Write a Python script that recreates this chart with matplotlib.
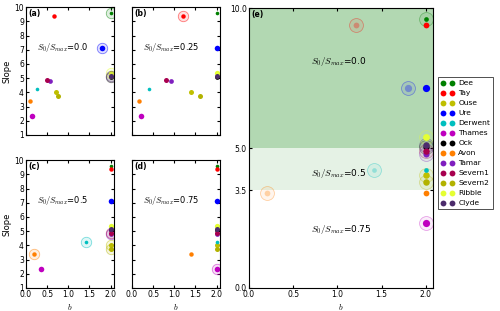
import matplotlib.pyplot as plt
from matplotlib.lines import Line2D

plt.rcParams['font.family'] = ['DejaVu Sans']
plt.rcParams['mathtext.fontset'] = 'cm'
plt.rcParams['xtick.direction'] = 'in'
plt.rcParams['ytick.direction'] = 'in'
plt.rcParams['xtick.top'] = True
plt.rcParams['ytick.right'] = True
plt.rcParams['xtick.major.size'] = 2.5
plt.rcParams['ytick.major.size'] = 2.5
plt.rcParams['axes.linewidth'] = 0.8

# 河流名称与颜色
rivers = ['Dee', 'Tay', 'Ouse', 'Ure', 'Derwent', 'Thames', 'Ock', 'Avon',
          'Tamar', 'Severn1', 'Severn2', 'Ribble', 'Clyde']
colors = ['#008000', '#ff0000', '#bfbf00', '#0000ff', '#00bfbf', '#bf00bf', '#000000',
          '#ff7f00', '#7f1fbf', '#a8004f', '#b2b200', '#e5ff33', '#4c2c6c']
# 坡度
slope = [9.62, 9.41, 4.04, 7.15, 4.22, 2.32, 5.05, 3.40, 4.79, 4.88, 3.77, 5.38, 5.12]
# 各 S0/Smax 下的 b 值
s_ratio = ['0.0', '0.25', '0.5', '0.75']
b_vals = [
    [2.0, 0.65, 0.71, 1.80, 0.25, 0.15, 2.0, 0.10, 0.56, 0.49, 0.75, 2.0, 2.0],
    [2.0, 1.21, 1.40, 2.0, 0.40, 0.21, 2.0, 0.16, 0.91, 0.81, 1.61, 2.0, 2.0],
    [2.0, 2.0, 2.0, 2.0, 1.41, 0.36, 2.0, 0.20, 2.0, 2.0, 2.0, 2.0, 2.0],
    [2.0, 2.0, 2.0, 2.0, 2.0, 2.0, 2.0, 1.40, 2.0, 2.0, 2.0, 2.0, 2.0],
]
# 每条河流被圈出的面板
ring_panel = [0, 1, 2, 0, 2, 3, 0, 2, 2, 2, 2, 0, 0]
# (e) 中的分区
zone_edges = [3.5, 5.0, 10.0]
zone_labels = ['0.75', '0.5', '0.0']
zone_text_y = [2.1, 4.1, 8.1]

msize = [2.6, 3.2, 3.6, 4.0, 2.6, 4.0, 3.4, 3.2, 3.4, 3.6, 3.6, 3.8, 3.6]

fig = plt.figure(figsize=(5.0, 3.11), dpi=100)
pos = [[0.052, 0.566, 0.176, 0.411], [0.264, 0.566, 0.176, 0.411],
       [0.052, 0.074, 0.176, 0.411], [0.264, 0.074, 0.176, 0.411]]
tags = ['(a)', '(b)', '(c)', '(d)']

for k in range(4):
    ax = fig.add_axes(pos[k])
    for i in range(len(rivers)):
        ax.plot(b_vals[k][i], slope[i], 'o', color=colors[i], mec='none', ms=msize[i])
        if ring_panel[i] == k:
            ax.plot(b_vals[k][i], slope[i], 'o', ms=7.5, mfc=colors[i], mec=colors[i],
                    alpha=0.12, mew=0)
            ax.plot(b_vals[k][i], slope[i], 'o', ms=7.5, mfc='none', mec=colors[i],
                    alpha=0.5, mew=0.6)
    ax.text(0.25, 7.15, r'$S_0/S_{max}$=' + s_ratio[k], fontsize=6, va='center')
    ax.text(0.03, 0.985, tags[k], transform=ax.transAxes, fontsize=5.5,
            fontweight='bold', va='top')
    ax.set_xlim(0, 2.08)
    ax.set_ylim(1, 10)
    ax.set_xticks([0.0, 0.5, 1.0, 1.5, 2.0])
    ax.set_yticks(range(1, 11))
    ax.tick_params(labelsize=5.5, pad=1.5)
    if k in (0, 2):
        ax.set_ylabel('Slope', fontsize=6, labelpad=2)
    else:
        ax.set_yticklabels([])
    if k in (2, 3):
        ax.set_xlabel(r'$b$', fontsize=6, labelpad=2)
    else:
        ax.set_xticklabels([])

# (e) 汇总图
ax = fig.add_axes([0.498, 0.074, 0.368, 0.9])
ax.axhspan(zone_edges[1], zone_edges[2], color='green', alpha=0.3, lw=0)
ax.axhspan(zone_edges[0], zone_edges[1], color='green', alpha=0.1, lw=0)
for j in range(3):
    ax.text(0.7, zone_text_y[j], r'$S_0/S_{max}$=' + zone_labels[j], fontsize=6.5,
            va='center')
for i in range(len(rivers)):
    bx = b_vals[ring_panel[i]][i]
    if bx < 2.0:
        ax.plot(bx, slope[i], 'o', color=colors[i], mec='none', ms=msize[i] * 1.3,
                alpha=0.3)
    ax.plot(bx, slope[i], 'o', ms=10, mfc=colors[i], mec='none', alpha=0.07)
    ax.plot(bx, slope[i], 'o', ms=10, mfc='none', mec=colors[i], alpha=0.35, mew=0.6)
for i in range(len(rivers)):
    ax.plot(2.0, slope[i], 'o', color=colors[i], mec='none', ms=msize[i] * 1.3)
ax.text(0.015, 0.993, '(e)', transform=ax.transAxes, fontsize=5.5,
        fontweight='bold', va='top')
ax.set_xlim(0, 2.08)
ax.set_ylim(0, 10)
ax.set_xticks([0.0, 0.5, 1.0, 1.5, 2.0])
ax.set_yticks([0.0, 3.5, 5.0, 10.0])
ax.set_yticklabels(['0.0', '3.5', '5.0', '10.0'])
ax.tick_params(labelsize=5.5, pad=1.5)
ax.set_xlabel(r'$b$', fontsize=6, labelpad=2)

handles = [Line2D([], [], marker='o', ls='none', color=c, mec='none', ms=4.2) for c in colors]
leg = fig.legend(handles, rivers, numpoints=2, loc='upper left',
                 bbox_to_anchor=(0.876, 0.752), fontsize=5.4, frameon=True,
                 fancybox=False, borderpad=0.4, labelspacing=0.5, handlelength=1.7,
                 handletextpad=0.6, borderaxespad=0)
leg.get_frame().set_edgecolor('black')
leg.get_frame().set_linewidth(0.6)

fig.savefig('out.png', dpi=100)
